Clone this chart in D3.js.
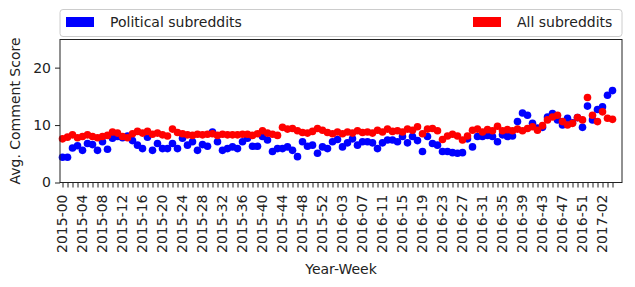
<!DOCTYPE html>
<html>
  <head>
    <meta charset="UTF-8" />
    <title>Avg. Comment Score</title>
    <script src="https://d3js.org/d3.v7.min.js"></script>
    <style>
      body { margin: 0; background: #fff; }
      text { font-family: 'DejaVu Sans', sans-serif; fill: #222; }
      .frame { fill: none; stroke: #222; stroke-width: 1px; }
      .tick line { stroke: #222; }
    </style>
  </head>
  <body>
    <svg id="chart" width="635" height="287"></svg>

    <script>
      // weeks: 2015-00 .. 2017-04
      var weeks = [];
      [[2015, 53], [2016, 53], [2017, 5]].forEach(function (yr) {
        for (var w = 0; w < yr[1]; w++) {
          weeks.push(yr[0] + '-' + (w < 10 ? '0' : '') + w);
        }
      });

      var political = [
        4.4, 4.4, 6.0, 6.4, 5.6, 6.8, 6.6, 5.6, 7.1, 5.8,
        7.7, 8.0, 7.8, 8.1, 7.3, 6.5, 5.9, 7.9, 5.6, 6.8,
        5.9, 5.9, 6.8, 5.9, 7.7, 6.5, 7.1, 5.6, 6.6, 6.3,
        8.8, 7.1, 5.6, 5.9, 6.2, 5.9, 7.1, 7.7, 6.3, 6.3,
        8.0, 7.4, 5.4, 5.9, 5.9, 6.2, 5.6, 4.5, 7.1, 6.3,
        6.5, 5.1, 6.2, 5.9, 7.1, 7.5, 6.2, 6.9, 7.6, 6.5,
        7.1, 7.1, 6.9, 5.9, 6.9, 7.4, 7.4, 7.1, 8.0, 6.9,
        8.0, 7.3, 5.4, 8.0, 6.8, 6.5, 5.4, 5.4, 5.2, 5.1,
        5.2, 7.6, 6.2, 8.0, 8.0, 8.2, 8.0, 7.1, 8.3, 8.0,
        8.1, 10.6, 12.1, 11.7, 10.3, 9.5, 9.6, 11.4, 12.0, 10.9,
        10.0, 11.2, 10.4, 11.3, 9.6, 13.3, 10.9, 12.7, 13.2, 15.2,
        16.0
      ];

      var allSubs = [
        7.6, 7.9, 8.3, 7.8, 8.0, 8.3, 8.0, 7.8, 8.0, 8.2,
        8.8, 8.6, 8.0, 7.8, 8.5, 8.9, 8.6, 8.9, 8.4, 8.6,
        8.3, 8.1, 9.3, 8.7, 8.5, 8.3, 8.2, 8.4, 8.3, 8.4,
        8.5, 8.2, 8.4, 8.3, 8.3, 8.3, 8.4, 8.4, 8.2, 8.5,
        9.0, 8.6, 8.4, 8.2, 9.6, 9.3, 9.4, 9.0, 8.7, 8.6,
        8.9, 9.4, 9.1, 8.7, 8.5, 8.8, 8.5, 8.8, 8.6, 9.0,
        8.7, 8.8, 8.6, 9.1, 8.8, 9.3, 8.9, 9.0, 8.8, 9.3,
        9.1, 9.7, 8.5, 9.3, 9.4, 9.0, 7.5, 8.1, 8.4, 8.1,
        7.4, 8.1, 9.1, 9.3, 8.8, 9.2, 9.0, 9.8, 9.0, 9.2,
        9.0, 9.3, 9.0, 9.4, 9.7, 9.1, 9.9, 10.9, 11.4, 11.7,
        10.6, 10.0, 10.3, 11.3, 10.9, 14.8, 11.7, 10.6, 12.3, 11.2,
        11.0
      ];

      var yTicks = [0, 10, 20];
      var seriesNames = ['Political subreddits', 'All subreddits'];
      var seriesColors = ['#0000ff', '#ff0000'];

      var svg = d3.select('#chart');
      var plotLeft = 60, plotRight = 622, plotTop = 39.5, plotBottom = 182.5;

      var x = d3.scalePoint().domain(weeks).range([62.5, 612.5]);
      var y = d3.scaleLinear().domain([0, 24.9]).range([plotBottom, plotTop]);

      // x axis, a tick for every week, a label every 4th
      var xAxis = svg.append('g')
        .attr('transform', 'translate(0,' + plotBottom + ')')
        .call(d3.axisBottom(x).tickSize(5).tickFormat(''));
      xAxis.select('.domain').remove();

      svg.append('g').selectAll('text')
        .data(weeks.filter(function (d, i) { return i % 4 === 0; }))
        .enter()
        .append('text')
        .attr('transform', function (d) {
          return 'translate(' + x(d) + ',' + (plotBottom + 12) + ') rotate(-90)';
        })
        .attr('text-anchor', 'end')
        .attr('dy', '0.35em')
        .style('font-size', '14px')
        .text(function (d) { return d; });

      // y axis
      var yAxis = svg.append('g')
        .attr('transform', 'translate(' + plotLeft + ',0)')
        .call(d3.axisLeft(y).tickValues(yTicks).tickSize(5).tickPadding(4));
      yAxis.select('.domain').remove();
      yAxis.selectAll('text').style('font-size', '14px').style('font-family', 'DejaVu Sans').attr('fill', '#222');

      // points, blue then red on top
      var sets = [political, allSubs];
      sets.forEach(function (vals, k) {
        svg.append('g').selectAll('circle')
          .data(vals)
          .enter()
          .append('circle')
          .attr('cx', function (d, i) { return x(weeks[i]); })
          .attr('cy', function (d) { return y(d); })
          .attr('r', 3.8)
          .attr('fill', seriesColors[k]);
      });

      svg.append('rect')
        .attr('class', 'frame')
        .attr('x', plotLeft).attr('y', plotTop)
        .attr('width', plotRight - plotLeft).attr('height', plotBottom - plotTop);

      // axis titles
      svg.append('text')
        .attr('x', (plotLeft + plotRight) / 2).attr('y', 274)
        .attr('text-anchor', 'middle')
        .style('font-size', '14px')
        .text('Year-Week');

      svg.append('text')
        .attr('transform', 'translate(20,' + (plotTop + plotBottom) / 2 + ') rotate(-90)')
        .attr('text-anchor', 'middle')
        .style('font-size', '14px')
        .text('Avg. Comment Score');

      // legend above the plot, spread across the width
      var legend = svg.append('g');
      legend.append('rect')
        .attr('x', plotLeft).attr('y', 9.5)
        .attr('width', plotRight - plotLeft).attr('height', 27)
        .attr('rx', 3)
        .attr('fill', '#fff').attr('stroke', '#ccc');

      var legendX = [66, 473];
      seriesNames.forEach(function (name, k) {
        legend.append('rect')
          .attr('x', legendX[k]).attr('y', 17)
          .attr('width', 28).attr('height', 10)
          .attr('fill', seriesColors[k]);
        legend.append('text')
          .attr('x', legendX[k] + 44).attr('y', 27)
          .style('font-size', '14px')
          .text(name);
      });
    </script>
  </body>
</html>
